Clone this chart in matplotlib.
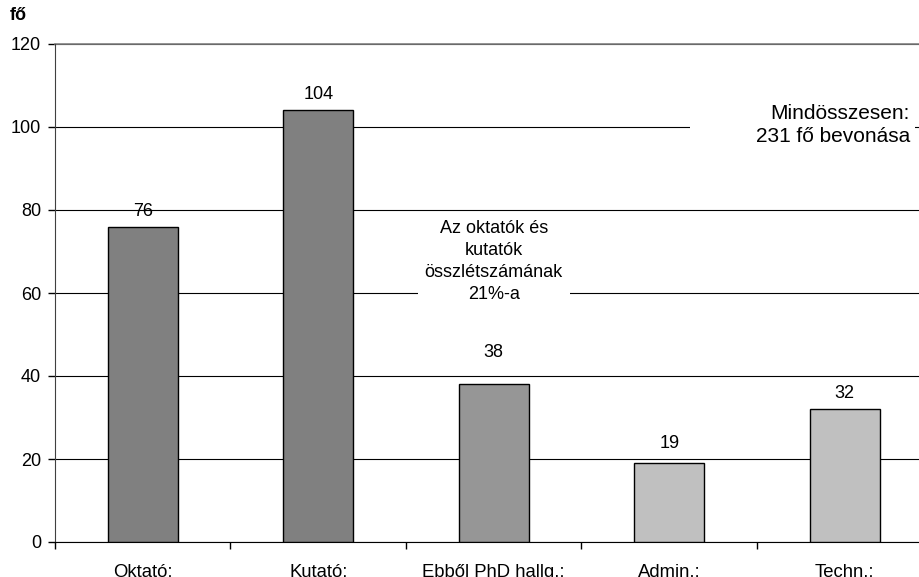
import matplotlib
matplotlib.use("Agg")
import matplotlib.pyplot as plt
from matplotlib.patches import Rectangle

# data
categories = ["Oktató:", "Kutató:", "Ebből PhD hallg.:", "Admin.:", "Techn.:"]
values = [76, 104, 38, 19, 32]
colors = ["#808080", "#808080", "#969696", "#c0c0c0", "#c0c0c0"]
yticks = [0, 20, 40, 60, 80, 100, 120]

plt.rcParams["font.family"] = ["Liberation Sans", "DejaVu Sans"]

fig = plt.figure(figsize=(9.2, 5.77), dpi=100)
ax = fig.add_axes([55 / 920, 35 / 577, 877.5 / 920, 498 / 577])

x = list(range(len(categories)))
bars = ax.bar(x, values, width=0.4, color=colors, edgecolor="black", linewidth=1, zorder=3)

# value labels above bars (the PhD label sits a bit higher in the original)
extra_lift = {2: 12, 3: 3}
for xi, v in zip(x, values):
    ax.annotate(str(v), (xi, v), xytext=(0, 5 + extra_lift.get(xi, 0)), textcoords="offset points",
                ha="center", va="bottom", fontsize=13)

ax.set_xlim(-0.5, len(categories) - 0.5)
ax.set_ylim(0, 120)
ax.set_yticks(yticks)
ax.tick_params(axis="y", labelsize=13, length=5, width=1, pad=5)

# category labels centred, tick marks on boundaries
ax.set_xticks(x)
ax.set_xticklabels(categories, fontsize=13.3)
ax.set_xticks([i - 0.5 for i in range(len(categories) + 1)], minor=True)
ax.tick_params(axis="x", which="major", length=0, pad=15.5)
ax.tick_params(axis="x", which="minor", length=5, width=1)

ax.yaxis.grid(True, color="black", linewidth=0.8, zorder=0)
ax.set_axisbelow(True)
for s in ["top", "right"]:
    ax.spines[s].set_visible(False)
ax.spines["left"].set_color("#404040")
ax.spines["bottom"].set_color("black")
ax.axhline(120, color="#808080", linewidth=1.2, zorder=1, clip_on=False)

# annotation boxes
ax.text(2.0, 67.6, "Az oktatók és\nkutatók\nösszlétszámának\n21%-a", ha="center", va="center",
        fontsize=13, linespacing=1.38, zorder=5,
        bbox=dict(facecolor="white", edgecolor="none", pad=5))

ax.add_patch(Rectangle(((690 - 55) / 877.5, 0.80), (915 - 690) / 877.5, 0.095,
                       transform=ax.transAxes, facecolor="white", edgecolor="none", zorder=4))
ax.text((910 - 55) / 877.5, 0.837, "Mindösszesen:\n231 fő bevonása", transform=ax.transAxes,
        ha="right", va="center", multialignment="right", fontsize=15, linespacing=1.3, zorder=5)

fig.text(10 / 920, 1 - 15 / 577, "fő", fontsize=13, fontweight="bold", va="center", ha="left")

fig.savefig("out.png", dpi=100)
